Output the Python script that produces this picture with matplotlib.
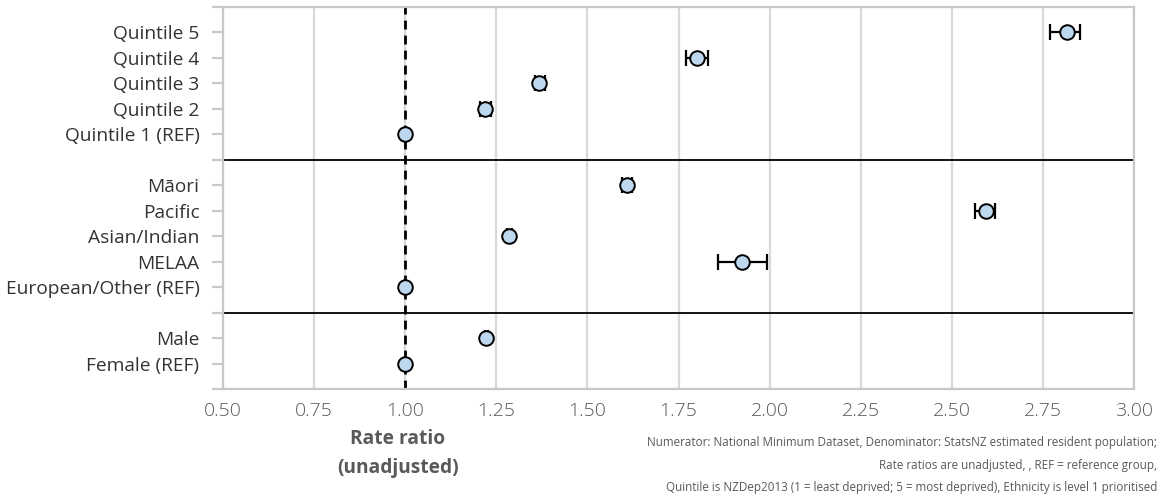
import matplotlib
matplotlib.use("Agg")
import matplotlib.pyplot as plt

plt.rcParams['font.family'] = ['Open Sans', 'DejaVu Sans']

# Groups, top to bottom
labels = ["Quintile 5", "Quintile 4", "Quintile 3", "Quintile 2", "Quintile 1 (REF)",
          "Māori", "Pacific", "Asian/Indian", "MELAA", "European/Other (REF)",
          "Male", "Female (REF)"]
rate_ratio = [2.815, 1.800, 1.367, 1.218, 1.000,
              1.608, 2.593, 1.285, 1.923, 1.000,
              1.222, 1.000]
ci_low = [2.769, 1.771, 1.355, 1.205, 1.000,
          1.596, 2.564, 1.278, 1.859, 1.000,
          1.218, 1.000]
ci_high = [2.852, 1.832, 1.385, 1.235, 1.000,
           1.622, 2.619, 1.292, 1.992, 1.000,
           1.226, 1.000]
row_pos = [14, 13, 12, 11, 10, 8, 7, 6, 5, 4, 2, 1]
separators = [9, 3]
x_ticks = [0.50, 0.75, 1.00, 1.25, 1.50, 1.75, 2.00, 2.25, 2.50, 2.75, 3.00]

caption = ("Numerator: National Minimum Dataset, Denominator: StatsNZ estimated resident population;\n"
           "Rate ratios are unadjusted, , REF = reference group,\n"
           "Quintile is NZDep2013 (1 = least deprived; 5 = most deprived), Ethnicity is level 1 prioritised")

fig = plt.figure(figsize=(11.65, 4.95), dpi=100)
ax = fig.add_axes([223 / 1165, 1 - 389 / 495, (1134 - 223) / 1165, (389 - 7) / 495])

grid_col = "#d9d9d9"
spine_col = "#c8c8c8"

ax.set_xlim(0.5, 3.0)
ax.set_ylim(0, 15)
ax.set_xticks(x_ticks)
ax.set_xticklabels([f"{t:.2f}" for t in x_ticks], color="#595959", fontsize=14,
                   fontweight="light")
ax.xaxis.grid(True, color=grid_col, linewidth=1.6)
ax.set_axisbelow(True)
ax.tick_params(axis="x", length=0, pad=9)

ytick_pos = list(range(0, 16))
ytick_lab = [""] * 16
for p, l in zip(row_pos, labels):
    ytick_lab[p] = l
ax.set_yticks(ytick_pos)
ax.set_yticklabels(ytick_lab, color="#333333", fontsize=13.8)
ax.tick_params(axis="y", length=8, width=1.6, color=spine_col, pad=9)

for s in ax.spines.values():
    s.set_color(spine_col)
    s.set_linewidth(1.6)

for y in separators:
    ax.axhline(y, color="black", linewidth=1.3, zorder=2)

ax.axvline(1.0, color="black", linewidth=2, linestyle=(0, (3.2, 2.2)), zorder=2)

xerr = [[r - lo for r, lo in zip(rate_ratio, ci_low)],
        [hi - r for r, hi in zip(rate_ratio, ci_high)]]
ax.errorbar(rate_ratio, row_pos, xerr=xerr, fmt="none", ecolor="black",
            elinewidth=1.6, capsize=6, capthick=1.6, zorder=3)
ax.scatter(rate_ratio, row_pos, s=110, facecolor="#bdd7ee", edgecolor="black",
           linewidth=1.4, zorder=4)

fig.text(398 / 1165, 1 - 453 / 495, "Rate ratio\n(unadjusted)", ha="center", va="center",
         fontsize=13.8, fontweight="bold", color="#595959", linespacing=1.6)
fig.text(1157 / 1165, 1 - 465 / 495, caption, ha="right", va="center",
         fontsize=8.4, color="#595959", linespacing=1.95)

fig.savefig("out.png", dpi=100)
